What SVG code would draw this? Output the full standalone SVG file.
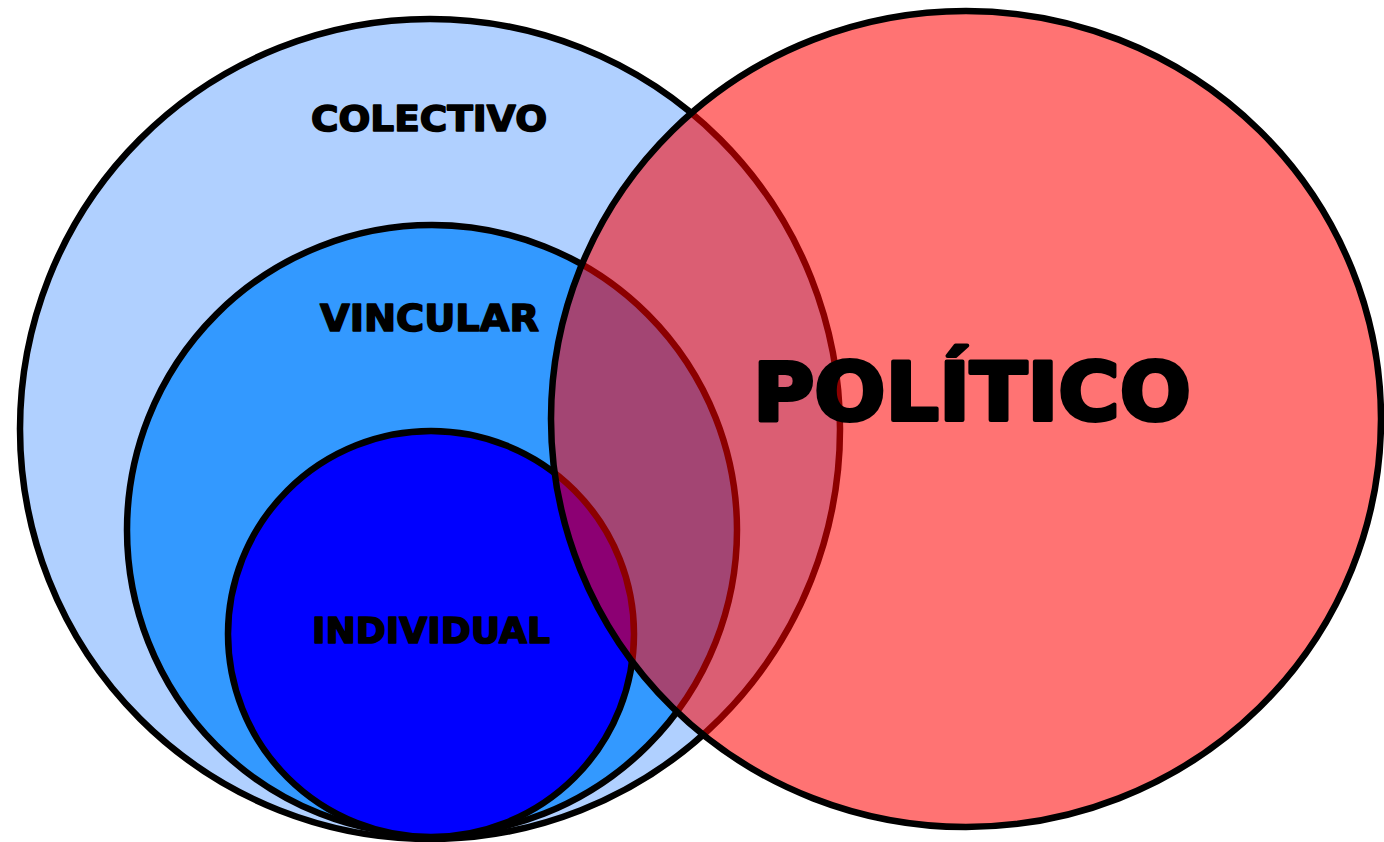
<svg xmlns="http://www.w3.org/2000/svg" width="1384" height="842" viewBox="0 0 1384 842">
<style>
.c{stroke:#000;stroke-width:6.5}
.t{font-family:"DejaVu Sans","Liberation Sans",sans-serif;font-weight:bold;fill:#000;stroke:#000;stroke-width:1.6;stroke-linejoin:round;text-anchor:start}
.big{stroke-width:4}
</style>
<rect width="1384" height="842" fill="#fff"/>
<g id="colectivo">
<circle class="c" cx="430" cy="429" r="410" fill="#b0d0ff"/>
<text class="t" x="311" y="131" font-size="36" textLength="236" lengthAdjust="spacingAndGlyphs">COLECTIVO</text>
</g>
<g id="vincular">
<circle class="c" cx="432" cy="530" r="305" fill="#3399ff"/>
<text class="t" x="320" y="331" font-size="38" textLength="219" lengthAdjust="spacingAndGlyphs">VINCULAR</text>
</g>
<g id="individual">
<circle class="c" cx="431" cy="634" r="203" fill="#0000ff"/>
<text class="t" x="312" y="643" font-size="35" textLength="238" lengthAdjust="spacingAndGlyphs">INDIVIDUAL</text>
</g>
<g id="politico">
<ellipse cx="966" cy="419" rx="415" ry="408" fill="#ff0000" fill-opacity="0.55" stroke="#000" stroke-width="6.5"/>
<text class="t big" x="753" y="420" font-size="81" textLength="438" lengthAdjust="spacingAndGlyphs">POLÍTICO</text>
</g>
<g id="connectors"></g>
</svg>
